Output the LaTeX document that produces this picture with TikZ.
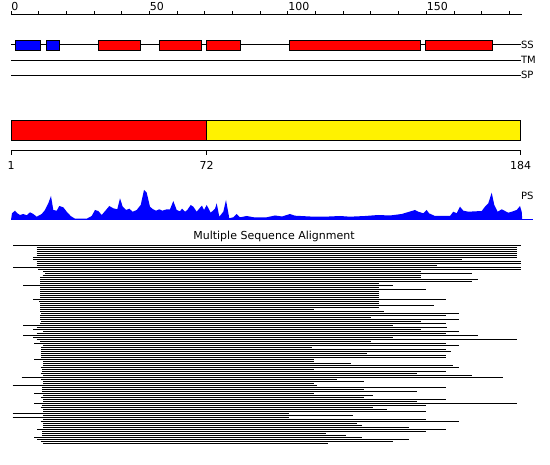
\documentclass[tikz,border=0pt]{standalone}
\usepackage{fontspec}
\setmainfont{DejaVu Sans}
\usepackage{xcolor}
\usepackage{tikz}
\usetikzlibrary{positioning}
\newcommand{\bloque}[3]{%
  \draw[black, fill=#3] (#1,40.5) rectangle (#2,50.5);%
}
\newcommand{\pista}[2]{%
  \draw (11,#1) -- (520.5,#1);
  \node[etiqueta, font=\fontsize{10}{12}\selectfont, anchor=west] (pista#2) at (520.5,#1) {#2};%
}

\begin{document}
\begin{tikzpicture}[x=1pt, y=-1pt, line width=1pt,
    etiqueta/.style={font=\fontsize{11}{13}\selectfont, inner sep=0pt}]
  \useasboundingbox (0,0) rectangle (550,465);
  % regla superior
  \draw (11,15) -- (521.5,15);
  \foreach \t in {0,10,...,180}
    \draw (11+\t*2.769,15) -- (11+\t*2.769,11);
  \foreach \t in {0,50,100,150}
    \node[etiqueta, anchor=west] (reg\t) at (11+\t*2.769,6.3) {\t};
  % pistas SS, TM, SP
  \pista{45}{SS}
  \pista{60.3}{TM}
  \pista{75.3}{SP}
  \bloque{15.3}{40.7}{blue}
  \bloque{46.3}{59.7}{blue}
  \bloque{98.3}{140.3}{red}
  \bloque{159.3}{201.3}{red}
  \bloque{206.3}{240.3}{red}
  \bloque{289.3}{420.7}{red}
  \bloque{425.3}{492.7}{red}
  % dominios
  \draw[fill=red] (11,120.7) rectangle (206.7,140.3);
  \draw[fill=yellow] (206.7,120.7) rectangle (520.7,140.3);
  \draw (11,150.7) -- (520.7,150.7);
  \foreach \p/\x in {1/11, 72/206.7, 184/520.7} {
    \draw (\x,150.7) -- (\x,155);
    \node[etiqueta] (dom\p) at (\x,165.5) {\p};
  }
  % perfil PS
  \fill[blue] plot coordinates {(11,220) (12,213.3) (15,210.7) (17.3,213.3)
    (20,215) (23.3,214) (26.7,215.3) (30,212.3) (33.3,214) (36.7,216.7)
    (41.7,214) (45,210) (48.3,203.3) (51,196) (53.3,210) (56.7,210.7)
    (59.3,206) (63.3,207.3) (66.7,211.7) (70.7,216) (75,218.7) (86.7,218.7)
    (91.7,216) (95,210) (98.3,211) (101.7,215) (106,210) (109.3,206)
    (113.3,208.3) (117.3,209.3) (120,198.3) (122.7,206.7) (126,210)
    (129.3,208.7) (132.7,211.7) (136.7,210) (140.7,205) (144,190)
    (146.7,192.7) (150,206.7) (152.7,209) (156,210.7) (159.3,209.3)
    (162.3,210.7) (166.7,209.3) (170,209.3) (173.3,201) (176.7,210)
    (180,211.3) (182,208.7) (185,211.7) (187.3,210) (190.7,205) (193.3,206.7)
    (196.7,211.7) (200,207.7) (202,205.7) (204,210) (206.7,205) (210.7,212.7)
    (215,208.7) (216.7,203.3) (219.3,216.7) (223.3,211.7) (226,200)
    (229.3,218.3) (233.3,217.3) (236.7,214) (240,217.3) (246.7,216)
    (255,217.5) (266.7,217.3) (275,215.5) (282,216.5) (290,214) (295,215.7)
    (310,216.5) (325,216.7) (340,216) (350,216.7) (365,216) (378.3,215)
    (390,215.5) (401.7,214) (415,210) (418.3,211.7) (423.3,213.3)
    (426.7,210) (429,213.3) (435,216) (450,216) (453.3,211.7) (456.7,213.3)
    (460,206.7) (463.3,210.7) (468.3,211.7) (481.7,211) (485,206.7)
    (488.3,203.3) (491.7,192.7) (494.3,205) (497.7,211.7) (501.7,209.3)
    (505,211) (508.3,212.7) (511.7,211.7) (516.7,210) (520,206)
    (521.7,211.7) (522.3,220)} -- cycle;
  \draw[blue] (11,220) -- (533,220);
  \node[etiqueta, font=\fontsize{10}{12}\selectfont, anchor=west] (etqPS) at (520.5,196) {PS};
  % alineamiento
  \node[etiqueta, anchor=base] (titulo) at (274,240) {Multiple Sequence Alignment};
  \foreach \k/\a/\b in {0/13/520.7, 1/36.7/517.3, 2/36.7/517.3, 3/36.7/517.3,
      4/36.7/517.3, 5/36.7/517.3, 6/33/517.3, 7/33/461.7, 8/36.7/520.7,
      9/36.7/520.7, 10/36.7/436.7, 11/13/520.7, 12/38/520.7, 13/43/420.7,
      14/45/472.3, 15/42.7/420.7, 16/40/420.7, 17/40/478.3, 18/40/472.3,
      19/40/379, 20/23/392.7, 21/40/379, 22/40/425.7, 23/40/379, 24/40/379,
      25/40/379, 26/40/379, 27/33/445.7, 28/39.3/379, 29/40/379, 30/40/434,
      31/40/379, 32/40/314.3, 33/40/384.3, 34/41/459.3, 35/40/445.7,
      36/40/370.7, 37/40/459.3, 38/41/420.7, 39/40/445.7, 40/23/392.7,
      41/36.7/447.3, 42/33/420.7, 43/43/459.3, 44/36.7/445.7, 45/23/478.3,
      46/33/392.7, 47/36.7/517.3, 48/40/370.7, 49/34.3/445.7, 50/43.3/459.3,
      51/41/312.3, 52/41/445.7, 53/41/450.7, 54/41/367.3, 55/41/445.7,
      56/41/445.7, 57/34.3/314.3, 58/43/314.3, 59/43/350.7, 60/43/453.3,
      61/40.7/459.3, 62/42/314.3, 63/42/445.7, 64/40.7/417.3, 65/43/472.3,
      66/21.7/503.3, 67/40.7/337.3, 68/43/364.3, 69/43/314.3, 70/12.7/317.3,
      71/42/445.7, 72/42/364.3, 73/42/417.3, 74/34.3/314.3, 75/43/373.3,
      76/40.7/364.3, 77/43/445.7, 78/43/417.3, 79/34.3/517.3, 80/42/425.7,
      81/40.7/373.3, 82/43/386.7, 83/43/425.7, 84/12.7/289.3, 85/43/353.3,
      86/12.7/289.3, 87/43/425.7, 88/40.7/459.3, 89/43/356.7, 90/43/362.3,
      91/43/409.3, 92/37.3/445.7, 93/42/425.7, 94/42/325.7, 95/42/345.7,
      96/34.3/362.3, 97/37.3/409.3, 98/40.7/392.7, 99/43.3/328.3}
    \draw (\a,245.3+2*\k) -- (\b,245.3+2*\k);
\end{tikzpicture}
\end{document}
